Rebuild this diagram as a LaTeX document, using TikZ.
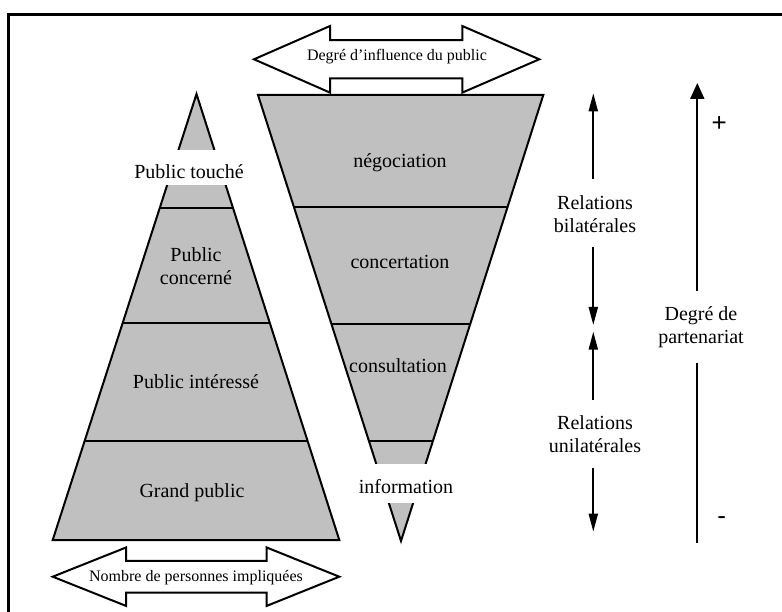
\documentclass[tikz,border=0pt]{standalone}
\usepackage{fontspec}
\setmainfont{Liberation Serif}
\newfontfamily\signfont{Liberation Sans}
\usetikzlibrary{arrows.meta,calc}
\definecolor{pyrgray}{HTML}{C0C0C0}
\begin{document}
\begin{tikzpicture}[x=1pt,y=-1pt,
  pyr/.style={fill=pyrgray,draw=black,line width=2pt,line join=miter},
  sepline/.style={line width=2pt},
  lbl/.style={font=\fontsize{20}{23}\selectfont,align=center,inner sep=0pt},
  small/.style={font=\fontsize{16}{19}\selectfont,inner sep=0pt},
  dbl/.style={draw=black,fill=white,line width=2pt,line join=miter},
  rel/.style={line width=2pt,-{Triangle[width=9pt,length=18pt]}},
  deg/.style={line width=2pt,-{Triangle[width=14pt,length=16pt]}},
  mask/.style={fill=white,draw=none},
  sign/.style={font=\signfont\fontsize{26}{28}\selectfont,inner sep=0pt}]
\useasboundingbox (0,0) rectangle (782,612);
\clip (0,0) rectangle (782,612);
\draw[line width=3pt] (8.7,14.3) rectangle (800,630);

% left pyramid
\coordinate (La) at (196.5,94);
\coordinate (Ll) at (52.7,540);
\coordinate (Lr) at (339.3,540);
\filldraw[pyr] (La) -- (Lr) -- (Ll) -- cycle;
\foreach \f in {0.2549,0.5135,0.7780}
  \draw[sepline] ($(La)!\f!(Ll)$) -- ($(La)!\f!(Lr)$);

% inverted pyramid
\coordinate (Ial) at (258,95);
\coordinate (Iar) at (543.3,95);
\coordinate (It) at (401,541);
\filldraw[pyr] (Ial) -- (Iar) -- (It) -- cycle;
\foreach \f in {0.2511,0.5135,0.7758}
  \draw[sepline] ($(Ial)!\f!(It)$) -- ($(Iar)!\f!(It)$);

% white masks
\fill[mask] (130,150) rectangle (252,185);
\fill[mask] (352,464) rectangle (458,502.7);

% pyramid labels
\node[lbl] (touche) at (189,172) {Public touché};
\node[lbl] (concerne) at (196,266) {Public\\concerné};
\node[lbl] (interesse) at (196,382) {Public intéressé};
\node[lbl] (grand) at (192,493) {Grand public};
\node[lbl] (nego) at (400,163) {négociation};
\node[lbl] (conc) at (400,262) {concertation};
\node[lbl] (consu) at (398,366) {consultation};
\node[lbl] (info) at (406,487) {information};

% double arrows
\draw[dbl] (254,59.3) -- (330,26) -- (330,40.1) -- (462.3,40.1) -- (462.3,26)
  -- (539.3,59.3) -- (462.3,92.6) -- (462.3,78.5) -- (330,78.5) -- (330,92.6) -- cycle;
\node[small] (influence) at (397,57) {Degré d’influence du public};
\draw[dbl] (52.7,576.7) -- (126,547.5) -- (126,560.9) -- (266.7,560.9) -- (266.7,547.5)
  -- (339.3,576.7) -- (266.7,605.9) -- (266.7,592.5) -- (126,592.5) -- (126,605.9) -- cycle;
\node[small] (nombre) at (196,578) {Nombre de personnes impliquées};

% relations arrows
\node[lbl] (bilat) at (595,214) {Relations\\bilatérales};
\node[lbl] (unilat) at (595,434) {Relations\\unilatérales};
\coordinate (bt) at (593.3,93.3);
\coordinate (b1) at (593.3,179.3);
\coordinate (b2) at (593.3,246.7);
\coordinate (bb) at (593.3,325);
\coordinate (ut) at (593.3,331.7);
\coordinate (u1) at (593.3,400);
\coordinate (u2) at (593.3,468.3);
\coordinate (ub) at (593.3,531.7);
\draw[rel] (b1) -- (bt);
\draw[rel] (b2) -- (bb);
\draw[rel] (u1) -- (ut);
\draw[rel] (u2) -- (ub);

% degree of partnership
\node[lbl] (degre) at (701,327) {Degré de\\partenariat};
\coordinate (dt) at (697.3,83);
\coordinate (d1) at (697.3,290.7);
\coordinate (d2) at (697.3,362.7);
\coordinate (db) at (697.3,542.7);
\draw[deg] (d1) -- (dt);
\draw[line width=2pt] (d2) -- (db);
\node[sign] (plus) at (719.3,124) {+};
\node[sign] (minus) at (721.7,521) {-};
\end{tikzpicture}
\end{document}
